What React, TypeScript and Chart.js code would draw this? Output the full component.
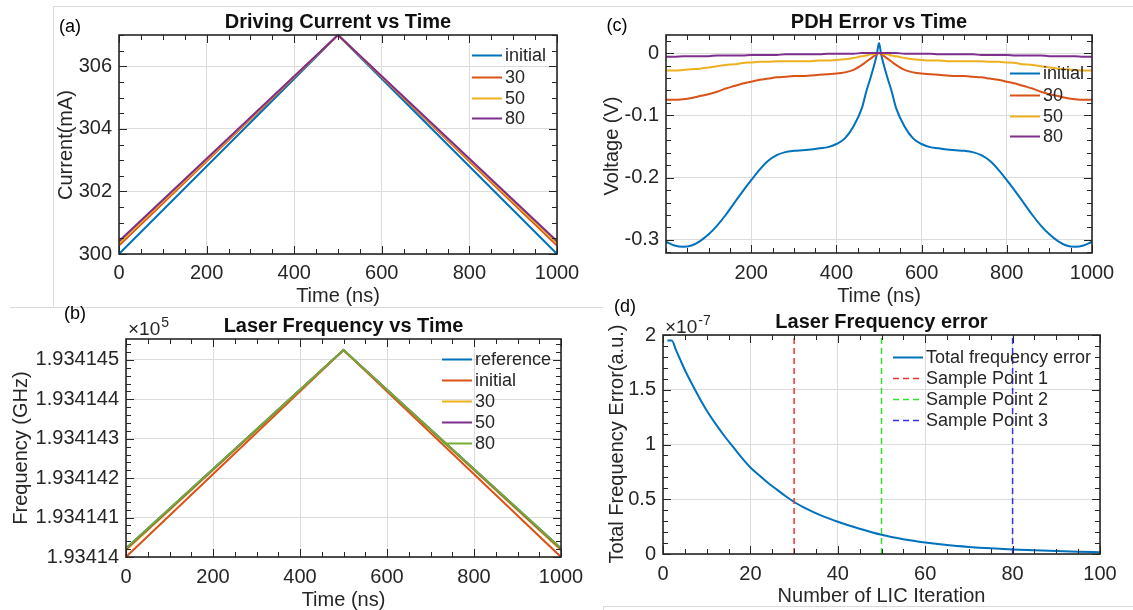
import React, { useEffect, useRef } from 'react';
import { Chart, registerables } from 'chart.js';

Chart.register(...registerables);

const FONT = '"Liberation Sans", Arial, Helvetica, sans-serif';
Chart.defaults.font.family = FONT;

const W = 1133;
const H = 610;
const Y_AXIS_W = 110;
const X_AXIS_H = 40;
const AXIS_COLOR = '#262626';
const GRID_COLOR = '#dcdcdc';
const BLUE = '#0072BD';
const ORANGE = '#D95319';
const YELLOW = '#EDB120';
const PURPLE = '#7E2F8E';
const GREEN = '#77AC30';

// ---------- (a) Driving Current vs Time ----------
const currentTime = [0, 500, 1000];
const currentInitial = [300, 307, 300];
const current30 = [300.27, 307, 300.27];
const current50 = [300.34, 307, 300.34];
const current80 = [300.41, 307, 300.41];
const currentXRange = [0, 1000];
const currentYRange = [300, 307];
const currentXTicks = [0, 200, 400, 600, 800, 1000];
const currentYTicks = [300, 302, 304, 306];
const currentLabels = ['initial', '30', '50', '80'];

// ---------- (b) Laser Frequency vs Time (GHz) ----------
const freqTime = [0, 500, 1000];
const freqReference = [193414.022, 193414.525, 193414.022];
const freqInitial = [193414.0, 193414.525, 193414.0];
const freq30 = [193414.017, 193414.525, 193414.017];
const freq50 = [193414.02, 193414.525, 193414.02];
const freq80 = [193414.022, 193414.525, 193414.022];
const freqXRange = [0, 1000];
const freqYRange = [193414.0, 193414.553];
const freqXTicks = [0, 200, 400, 600, 800, 1000];
const freqYTicks = [193414.0, 193414.1, 193414.2, 193414.3, 193414.4, 193414.5];
const freqLabels = ['reference', 'initial', '30', '50', '80'];

// ---------- (c) PDH Error vs Time ----------
const pdhTime = [
  0, 20, 40, 60, 80, 100, 120, 140, 160, 180,
  200, 220, 240, 260, 280, 300, 320, 340, 360, 380,
  400, 420, 440, 460,
  470, 480, 490, 495,
  500,
  505, 510, 520, 530, 540,
  560, 580, 600, 620, 640, 660, 680, 700, 720, 740,
  760, 780, 800, 820, 840, 860, 880, 900, 920, 940,
  960, 980, 1000,
];
const pdhInitial = [
  -0.303, -0.309, -0.311, -0.309, -0.302, -0.291, -0.277, -0.26, -0.241, -0.222,
  -0.204, -0.187, -0.173, -0.164, -0.159, -0.157, -0.156, -0.155, -0.153, -0.151,
  -0.146, -0.137, -0.118, -0.088,
  -0.062, -0.04, -0.016, -0.002,
  0.016,
  -0.002, -0.016, -0.04, -0.062, -0.088,
  -0.118, -0.137, -0.146, -0.151, -0.153, -0.155, -0.156, -0.157, -0.159, -0.164,
  -0.173, -0.187, -0.204, -0.222, -0.241, -0.26, -0.277, -0.291, -0.302, -0.309,
  -0.311, -0.309, -0.303,
];
const pdh30 = [
  -0.075, -0.075, -0.074, -0.072, -0.069, -0.066, -0.062, -0.057, -0.053, -0.049,
  -0.046, -0.043, -0.041, -0.039, -0.038, -0.037, -0.037, -0.036, -0.035, -0.034,
  -0.033, -0.031, -0.027, -0.019,
  -0.014, -0.009, -0.004, -0.002,
  0,
  -0.002, -0.004, -0.009, -0.014, -0.019,
  -0.027, -0.031, -0.033, -0.034, -0.035, -0.036, -0.037, -0.037, -0.038, -0.039,
  -0.041, -0.043, -0.046, -0.049, -0.053, -0.057, -0.062, -0.066, -0.069, -0.072,
  -0.074, -0.075, -0.075,
];
const pdh50 = [
  -0.028, -0.028, -0.027, -0.026, -0.025, -0.023, -0.021, -0.019, -0.018, -0.016,
  -0.015, -0.014, -0.014, -0.013, -0.013, -0.013, -0.013, -0.013, -0.012, -0.012,
  -0.011, -0.01, -0.008, -0.005,
  -0.004, -0.002, -0.001, 0,
  0,
  0, -0.001, -0.002, -0.004, -0.005,
  -0.008, -0.01, -0.011, -0.012, -0.012, -0.013, -0.013, -0.013, -0.013, -0.013,
  -0.014, -0.014, -0.015, -0.016, -0.018, -0.019, -0.021, -0.023, -0.025, -0.026,
  -0.027, -0.028, -0.028,
];
const pdh80 = [
  -0.006, -0.006, -0.005, -0.005, -0.005, -0.005, -0.004, -0.004, -0.004, -0.004,
  -0.003, -0.003, -0.003, -0.003, -0.002, -0.002, -0.002, -0.002, -0.002, -0.001,
  -0.001, -0.001, -0.001, 0,
  0, 0, 0, 0,
  0,
  0, 0, 0, 0, 0,
  -0.001, -0.001, -0.001, -0.001, -0.002, -0.002, -0.002, -0.002, -0.002, -0.003,
  -0.003, -0.003, -0.003, -0.004, -0.004, -0.004, -0.004, -0.005, -0.005, -0.005,
  -0.005, -0.006, -0.006,
];
const pdhXRange = [0, 1000];
const pdhYRange = [-0.321, 0.029];
const pdhXTicks = [200, 400, 600, 800, 1000];
const pdhYTicks = [-0.3, -0.2, -0.1, 0];
const pdhLabels = ['initial', '30', '50', '80'];

// ---------- (d) Laser Frequency error (x 1e-7) ----------
const licIteration = [1, 2, 3, 4, 5, 6, 8, 10, 12, 14, 16, 18, 20, 22, 24, 26, 28, 30, 33, 36, 40, 45, 50, 55, 60, 65, 70, 75, 80, 85, 90, 95, 100];
const licError = [1.95, 1.95, 1.86, 1.77, 1.68, 1.6, 1.45, 1.31, 1.19, 1.08, 0.98, 0.88, 0.79, 0.72, 0.65, 0.59, 0.53, 0.475, 0.41, 0.355, 0.295, 0.23, 0.175, 0.135, 0.105, 0.082, 0.065, 0.052, 0.042, 0.034, 0.027, 0.021, 0.016];
const samplePoints = [30, 50, 80];
const sampleLabels = ['Sample Point 1', 'Sample Point 2', 'Sample Point 3'];
const errXRange = [0, 100];
const errYRange = [0, 2];
const errXTicks = [0, 20, 40, 60, 80, 100];
const errYTicks = [0, 0.5, 1, 1.5, 2];

type Series = { label: string; color: string; xs: number[]; ys: number[]; dash?: number[]; width?: number; smooth?: boolean };
type Panel = {
  area: number[];
  xRange: number[];
  yRange: number[];
  xTicks: number[];
  yTicks: number[];
  xMinor: number;
  yMinor: number;
  xFmt: (v: number) => string;
  yFmt: (v: number) => string;
  xPad: number;
  yPad: number;
  series: Series[];
  title: string;
  titleY: number;
  tag: string;
  tagX: number;
  tagY: number;
  xTitle: string;
  xTitleY: number;
  yTitle: string;
  yTitleX: number;
  yTitleC: number;
  legendX: number;
  legendY: number[];
  exponent?: { base: string; sup: string; x: number; y: number; supY: number };
};

const intFmt = (v: number) => String(Math.round(v));

const PANELS: Panel[] = [
  {
    area: [119, 35, 557, 254],
    xRange: currentXRange,
    yRange: currentYRange,
    xTicks: currentXTicks,
    yTicks: currentYTicks,
    xMinor: 50,
    yMinor: 0.5,
    xFmt: intFmt,
    yFmt: intFmt,
    xPad: 7,
    yPad: 7,
    series: [
      { label: currentLabels[0], color: BLUE, xs: currentTime, ys: currentInitial },
      { label: currentLabels[1], color: ORANGE, xs: currentTime, ys: current30 },
      { label: currentLabels[2], color: YELLOW, xs: currentTime, ys: current50 },
      { label: currentLabels[3], color: PURPLE, xs: currentTime, ys: current80 },
    ],
    title: 'Driving Current vs Time',
    titleY: 28,
    tag: '(a)',
    tagX: 70,
    tagY: 27,
    xTitle: 'Time (ns)',
    xTitleY: 302,
    yTitle: 'Current(mA)',
    yTitleX: 72,
    yTitleC: 145,
    legendX: 472,
    legendY: [55, 77, 98, 118],
  },
  {
    area: [126, 339, 561, 557],
    xRange: freqXRange,
    yRange: freqYRange,
    xTicks: freqXTicks,
    yTicks: freqYTicks,
    xMinor: 50,
    yMinor: 0.02,
    xFmt: intFmt,
    yFmt: (v: number) => (v / 1e5).toFixed(6).replace(/0+$/, ''),
    xPad: 8,
    yPad: 7,
    series: [
      { label: freqLabels[0], color: BLUE, xs: freqTime, ys: freqReference },
      { label: freqLabels[1], color: ORANGE, xs: freqTime, ys: freqInitial },
      { label: freqLabels[2], color: YELLOW, xs: freqTime, ys: freq30 },
      { label: freqLabels[3], color: PURPLE, xs: freqTime, ys: freq50 },
      { label: freqLabels[4], color: GREEN, xs: freqTime, ys: freq80 },
    ],
    title: 'Laser Frequency vs Time',
    titleY: 332,
    tag: '(b)',
    tagX: 75,
    tagY: 314,
    xTitle: 'Time (ns)',
    xTitleY: 606,
    yTitle: 'Frequency (GHz)',
    yTitleX: 27,
    yTitleC: 448,
    legendX: 442,
    legendY: [359, 380, 401, 422, 443],
    exponent: { base: '\u00d710', sup: '5', x: 128, y: 335, supY: 327 },
  },
  {
    area: [666, 35, 1092, 253],
    xRange: pdhXRange,
    yRange: pdhYRange,
    xTicks: pdhXTicks,
    yTicks: pdhYTicks,
    xMinor: 50,
    yMinor: 0.02,
    xFmt: intFmt,
    yFmt: (v: number) => (Math.abs(v) < 1e-9 ? '0' : String(Math.round(v * 10) / 10)),
    xPad: 8,
    yPad: 7,
    series: [
      { label: pdhLabels[0], color: BLUE, xs: pdhTime, ys: pdhInitial, smooth: true },
      { label: pdhLabels[1], color: ORANGE, xs: pdhTime, ys: pdh30, smooth: true },
      { label: pdhLabels[2], color: YELLOW, xs: pdhTime, ys: pdh50, smooth: true },
      { label: pdhLabels[3], color: PURPLE, xs: pdhTime, ys: pdh80, smooth: true },
    ],
    title: 'PDH Error vs Time',
    titleY: 28,
    tag: '(c)',
    tagX: 617,
    tagY: 26,
    xTitle: 'Time (ns)',
    xTitleY: 302,
    yTitle: 'Voltage (V)',
    yTitleX: 618,
    yTitleC: 146,
    legendX: 1010,
    legendY: [73, 95, 116, 136],
  },
  {
    area: [663, 335, 1100, 554],
    xRange: errXRange,
    yRange: errYRange,
    xTicks: errXTicks,
    yTicks: errYTicks,
    xMinor: 5,
    yMinor: 0.1,
    xFmt: intFmt,
    yFmt: (v: number) => String(Math.round(v * 10) / 10),
    xPad: 8,
    yPad: 7,
    series: [
      { label: 'Total frequency error', color: BLUE, xs: licIteration, ys: licError, smooth: true },
      { label: sampleLabels[0], color: '#f03232', xs: [samplePoints[0], samplePoints[0]], ys: errYRange, dash: [6, 4], width: 1.5 },
      { label: sampleLabels[1], color: '#32e032', xs: [samplePoints[1], samplePoints[1]], ys: errYRange, dash: [6, 4], width: 1.5 },
      { label: sampleLabels[2], color: '#3232f0', xs: [samplePoints[2], samplePoints[2]], ys: errYRange, dash: [6, 4], width: 1.5 },
    ],
    title: 'Laser Frequency error',
    titleY: 328,
    tag: '(d)',
    tagX: 625,
    tagY: 307,
    xTitle: 'Number of LIC Iteration',
    xTitleY: 602,
    yTitle: 'Total Frequency Error(a.u.)',
    yTitleX: 623,
    yTitleC: 444,
    legendX: 893,
    legendY: [357, 378, 399, 420],
    exponent: { base: '\u00d710', sup: '-7', x: 665, y: 333, supY: 325 },
  },
];

function decor(p: Panel) {
  return {
    id: 'decor',
    afterDraw(chart: any) {
      const ctx: CanvasRenderingContext2D = chart.ctx;
      const xs = chart.scales.x;
      const ys = chart.scales.y;
      const { left: l, top: t, right: r, bottom: b } = chart.chartArea;
      ctx.save();
      // inner tick marks (major + minor) on all four sides
      ctx.strokeStyle = AXIS_COLOR;
      ctx.lineWidth = 1;
      ctx.setLineDash([]);
      ctx.beginPath();
      const kx0 = Math.ceil(p.xRange[0] / p.xMinor - 1e-6);
      const kx1 = Math.floor(p.xRange[1] / p.xMinor + 1e-6);
      for (let k = kx0; k <= kx1; k++) {
        const v = k * p.xMinor;
        const major = p.xTicks.some((tk) => Math.abs(tk - v) < p.xMinor * 1e-3);
        const len = major ? 8 : 5;
        const px = Math.round(xs.getPixelForValue(v)) + 0.5;
        ctx.moveTo(px, b);
        ctx.lineTo(px, b - len);
        ctx.moveTo(px, t);
        ctx.lineTo(px, t + len);
      }
      const ky0 = Math.ceil(p.yRange[0] / p.yMinor - 1e-6);
      const ky1 = Math.floor(p.yRange[1] / p.yMinor + 1e-6);
      for (let k = ky0; k <= ky1; k++) {
        const v = k * p.yMinor;
        const major = p.yTicks.some((tk) => Math.abs(tk - v) < p.yMinor * 1e-3);
        const len = major ? 8 : 5;
        const py = Math.round(ys.getPixelForValue(v)) + 0.5;
        ctx.moveTo(l, py);
        ctx.lineTo(l + len, py);
        ctx.moveTo(r, py);
        ctx.lineTo(r - len, py);
      }
      ctx.stroke();
      // axes box
      ctx.lineWidth = 1.6;
      ctx.strokeRect(l, t, r - l, b - t);

      // title
      ctx.fillStyle = '#111';
      ctx.font = `bold 20px ${FONT}`;
      ctx.textAlign = 'center';
      ctx.textBaseline = 'alphabetic';
      ctx.fillText(p.title, (l + r) / 2, p.titleY);

      // panel tag
      ctx.fillStyle = '#000';
      ctx.font = `18px ${FONT}`;
      ctx.textBaseline = 'middle';
      ctx.fillText(p.tag, p.tagX, p.tagY);

      // axis titles
      ctx.fillStyle = AXIS_COLOR;
      ctx.font = `20px ${FONT}`;
      ctx.textBaseline = 'alphabetic';
      ctx.fillText(p.xTitle, (l + r) / 2, p.xTitleY);
      ctx.save();
      ctx.translate(p.yTitleX, p.yTitleC);
      ctx.rotate(-Math.PI / 2);
      ctx.fillText(p.yTitle, 0, 0);
      ctx.restore();

      // exponent
      if (p.exponent) {
        const e = p.exponent;
        ctx.textAlign = 'left';
        ctx.font = `19px ${FONT}`;
        ctx.fillText(e.base, e.x, e.y);
        const w = ctx.measureText(e.base).width;
        ctx.font = `14px ${FONT}`;
        ctx.fillText(e.sup, e.x + w + 1, e.supY);
      }

      // legend (transparent, no box)
      ctx.font = `18px ${FONT}`;
      ctx.textAlign = 'left';
      ctx.textBaseline = 'middle';
      p.series.forEach((s, i) => {
        const y = p.legendY[i];
        ctx.strokeStyle = s.color;
        ctx.lineWidth = s.width ?? 2;
        ctx.setLineDash(s.dash ?? []);
        ctx.beginPath();
        ctx.moveTo(p.legendX, y + 0.5);
        ctx.lineTo(p.legendX + 30, y + 0.5);
        ctx.stroke();
        ctx.setLineDash([]);
        ctx.fillStyle = AXIS_COLOR;
        ctx.fillText(s.label, p.legendX + 33, y + 1);
      });
      ctx.restore();
    },
  };
}

function buildChart(canvas: HTMLCanvasElement, p: Panel) {
  const [l, t, r, b] = p.area;
  const n = p.series.length;
  const tickFont = { family: FONT, size: 20 };
  return new Chart(canvas, {
    type: 'line',
    data: {
      datasets: p.series.map((s, i) => ({
        label: s.label,
        data: s.xs.map((x, k) => ({ x, y: s.ys[k] })),
        borderColor: s.color,
        backgroundColor: s.color,
        borderWidth: s.width ?? 2,
        borderDash: s.dash ?? [],
        pointRadius: 0,
        pointHoverRadius: 0,
        fill: false,
        tension: 0,
        cubicInterpolationMode: s.smooth ? 'monotone' : 'default',
        order: n - i,
      })),
    } as any,
    options: {
      responsive: false,
      animation: false,
      devicePixelRatio: 1,
      events: [],
      layout: { padding: { left: l - Y_AXIS_W, top: t, right: W - r, bottom: H - b - X_AXIS_H } },
      plugins: { legend: { display: false }, title: { display: false }, tooltip: { enabled: false } },
      scales: {
        x: {
          type: 'linear',
          position: 'bottom',
          min: p.xRange[0],
          max: p.xRange[1],
          afterFit: (s: any) => {
            s.height = X_AXIS_H;
          },
          afterBuildTicks: (s: any) => {
            s.ticks = p.xTicks.map((v) => ({ value: v }));
          },
          ticks: {
            autoSkip: false,
            maxRotation: 0,
            minRotation: 0,
            padding: p.xPad,
            color: AXIS_COLOR,
            font: tickFont,
            callback: (v: any) => p.xFmt(Number(v)),
          },
          grid: { color: GRID_COLOR, lineWidth: 1, drawTicks: false },
          border: { display: false },
        },
        y: {
          type: 'linear',
          position: 'left',
          min: p.yRange[0],
          max: p.yRange[1],
          afterFit: (s: any) => {
            s.width = Y_AXIS_W;
          },
          afterBuildTicks: (s: any) => {
            s.ticks = p.yTicks.map((v) => ({ value: v }));
          },
          ticks: {
            autoSkip: false,
            padding: p.yPad,
            color: AXIS_COLOR,
            font: tickFont,
            callback: (v: any) => p.yFmt(Number(v)),
          },
          grid: { color: GRID_COLOR, lineWidth: 1, drawTicks: false },
          border: { display: false },
        },
      },
    } as any,
    plugins: [decor(p)],
  });
}

export default function App() {
  const r0 = useRef<HTMLCanvasElement>(null);
  const r1 = useRef<HTMLCanvasElement>(null);
  const r2 = useRef<HTMLCanvasElement>(null);
  const r3 = useRef<HTMLCanvasElement>(null);
  const refs = [r0, r1, r2, r3];

  useEffect(() => {
    const charts = PANELS.map((p, i) => buildChart(refs[i].current as HTMLCanvasElement, p));
    return () => charts.forEach((c) => c.destroy());
  }, []);

  const line = (left: number, top: number, width: number, height: number) => (
    <div style={{ position: 'absolute', left, top, width, height, background: '#dadada' }} />
  );

  return (
    <div style={{ position: 'fixed', left: 0, top: 0, width: W, height: H, background: '#fff', overflow: 'hidden' }}>
      {line(53, 6, W - 53, 1)}
      {line(53, 6, 1, 300)}
      {line(10, 307, 593, 1)}
      {line(603, 606, W - 603, 1)}
      {line(603, 606, 1, 4)}
      {refs.map((r, i) => (
        <canvas
          key={i}
          ref={r}
          width={W}
          height={H}
          style={{ position: 'absolute', left: 0, top: 0, width: W, height: H }}
        />
      ))}
    </div>
  );
}
